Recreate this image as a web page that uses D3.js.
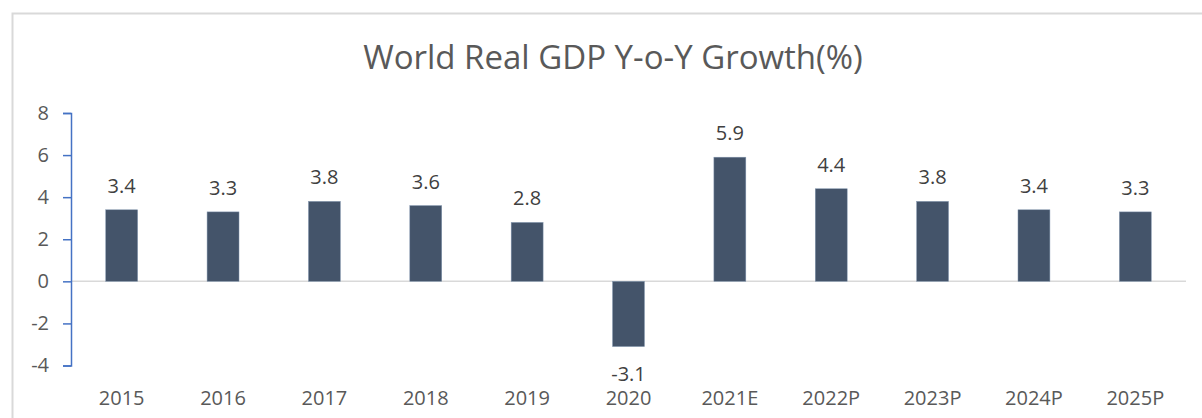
<!DOCTYPE html>
<html><head><meta charset="utf-8">
<script src="https://cdn.jsdelivr.net/npm/d3@7"></script>
<style>body{margin:0;background:#fff}svg{display:block}text{font-family:"Open Sans","Noto Sans",sans-serif}</style>
</head><body><svg id="c" width="1202" height="418"></svg>
<script>
const categories=["2015","2016","2017","2018","2019","2020","2021E","2022P","2023P","2024P","2025P"];
const growth=[3.4,3.3,3.8,3.6,2.8,-3.1,5.9,4.4,3.8,3.4,3.3];
const yTicks=[-4,-2,0,2,4,6,8];
const title="World Real GDP Y-o-Y Growth(%)";

const svg=d3.select("#c");
svg.append("path").attr("d","M12.5,418 V13.5 H1202").attr("fill","none").attr("stroke","#d9d9d9").attr("stroke-width",2);
svg.append("text").attr("x",613).attr("y",69).attr("text-anchor","middle").attr("font-size",33).attr("fill","#595959").text(title);

const x=d3.scaleBand().domain(categories).range([71,1186]).paddingInner(0.685).paddingOuter(0.3425);
const y=d3.scaleLinear().domain([-4,8]).range([365.5,113]);

svg.append("line").attr("x1",71).attr("x2",1186).attr("y1",y(0)).attr("y2",y(0)).attr("stroke","#d9d9d9").attr("stroke-width",1.5);

const ax=svg.append("g").attr("transform","translate(71,0)").call(d3.axisLeft(y).tickValues(yTicks).tickFormat(d=>String(d).replace("\u2212","-")).tickSize(8).tickSizeOuter(8).tickPadding(14));
ax.select(".domain").attr("stroke","#4472c4").attr("stroke-width",1.5);
ax.selectAll(".tick line").attr("stroke","#4472c4").attr("stroke-width",1.5);
ax.selectAll(".tick text").attr("font-size",20).attr("fill","#595959").attr("font-family","Open Sans, Noto Sans, sans-serif");

svg.selectAll("rect.bar").data(growth).join("rect").attr("class","bar")
 .attr("x",(d,i)=>x(categories[i])).attr("width",x.bandwidth())
 .attr("y",d=>y(Math.max(0,d))).attr("height",d=>Math.abs(y(d)-y(0)))
 .attr("fill","#44546a").attr("stroke","#8497b0").attr("stroke-width",0.5);

svg.selectAll("text.lbl").data(growth).join("text").attr("class","lbl")
 .attr("x",(d,i)=>x(categories[i])+x.bandwidth()/2)
 .attr("y",d=>d>=0?y(d)-17:y(d)+34)
 .attr("text-anchor","middle").attr("font-size",20).attr("fill","#404040")
 .text(d=>d.toFixed(1));

svg.selectAll("text.cat").data(categories).join("text").attr("class","cat")
 .attr("x",d=>x(d)+x.bandwidth()/2).attr("y",405)
 .attr("text-anchor","middle").attr("font-size",20).attr("fill","#595959").text(d=>d);
</script></body></html>
